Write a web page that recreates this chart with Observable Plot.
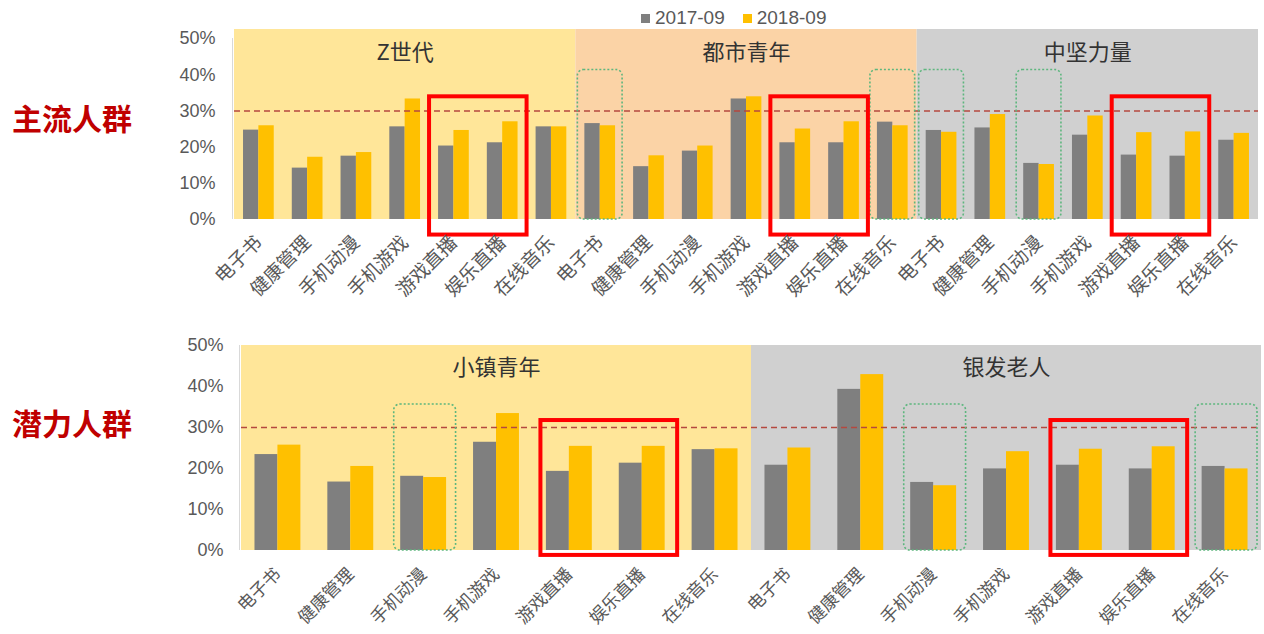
<!DOCTYPE html>
<html><head><meta charset="utf-8">
<script src="https://cdn.jsdelivr.net/npm/d3@7"></script>
<script src="https://cdn.jsdelivr.net/npm/@observablehq/plot@0.6"></script>
<style>
body{margin:0;background:#fff;font-family:"Liberation Sans","Noto Sans CJK SC",sans-serif;}
#wrap{position:relative;width:1264px;height:634px;overflow:hidden;background:#fff;}
.panel{position:absolute;left:0;}
.side{position:absolute;left:12px;font-family:"Noto Sans CJK SC",sans-serif;font-weight:700;font-size:30px;color:#C00000;line-height:30px;}
#legend{position:absolute;top:7px;left:641px;font-size:19px;color:#595959;display:flex;align-items:center;white-space:nowrap;}
#legend .sw{display:inline-block;width:9px;height:9px;margin-right:5px;}
</style></head>
<body><div id="wrap">
<div id="top" class="panel" style="top:0"></div>
<div id="bottom" class="panel" style="top:320px"></div>
<div id="legend"></div>
<div class="side" style="top:102px">主流人群</div>
<div class="side" style="top:407px">潜力人群</div>
</div>
<script>
// ---- data ----
const categories = ["电子书","健康管理","手机动漫","手机游戏","游戏直播","娱乐直播","在线音乐"];
const seriesNames = ["2017-09","2018-09"];
const topGroups = ["Z世代","都市青年","中坚力量"];
const bottomGroups = ["小镇青年","银发老人"];
const zGen2017 = [24.7,14.2,17.5,25.6,20.3,21.2,25.6];
const zGen2018 = [25.9,17.2,18.5,33.3,24.6,27.0,25.6];
const urban2017 = [26.5,14.6,18.9,33.3,21.2,21.2,26.9];
const urban2018 = [25.9,17.6,20.3,33.9,25.0,27.0,25.9];
const middle2017 = [24.6,25.3,15.5,23.3,17.8,17.5,21.9];
const middle2018 = [24.1,29.0,15.2,28.6,24.0,24.2,23.8];
const town2017 = [23.4,16.7,18.1,26.4,19.3,21.3,24.6];
const town2018 = [25.7,20.5,17.8,33.4,25.4,25.4,24.8];
const silver2017 = [20.8,39.3,16.6,19.9,20.8,19.9,20.5];
const silver2018 = [25.0,42.9,15.8,24.1,24.7,25.3,19.9];
const yTicks = [0,10,20,30,40,50];
const threshold = 30;
const topRedBoxes = [["Z世代","游戏直播"],["都市青年","游戏直播"],["中坚力量","游戏直播"]];
const topGreenBoxes = [["都市青年","电子书"],["都市青年","在线音乐"],["中坚力量","电子书"],["中坚力量","手机动漫"]];
const bottomRedBoxes = [["小镇青年","游戏直播"],["银发老人","游戏直播"]];
const bottomGreenBoxes = [["小镇青年","手机动漫"],["银发老人","手机动漫"],["银发老人","在线音乐"]];

const groupValues = {
  "Z世代": [zGen2017, zGen2018],
  "都市青年": [urban2017, urban2018],
  "中坚力量": [middle2017, middle2018],
  "小镇青年": [town2017, town2018],
  "银发老人": [silver2017, silver2018]
};
const groupColor = {"Z世代":"#FFE699","都市青年":"#FBD3A6","中坚力量":"#D0D0D0","小镇青年":"#FFE699","银发老人":"#D0D0D0"};
const seriesColor = ["#7F7F7F","#FFC000"];

// legend
const lg = document.getElementById("legend");
seriesNames.forEach((s,i)=>{
  const sp = document.createElement("span");
  sp.style.display="inline-flex";sp.style.alignItems="center";sp.style.marginRight= i===0?"18px":"0";
  sp.innerHTML = `<span class="sw" style="background:${seriesColor[i]}"></span>${s}`;
  lg.appendChild(sp);
});

function makePanel(groups, o) {
  const keys = groups.flatMap(g => categories.map(c => g + "|" + c));
  const rows = [];
  groups.forEach(g => categories.forEach((c, j) => seriesNames.forEach((s, k) => {
    rows.push({key: g + "|" + c, group: g, cat: c, series: s, value: groupValues[g][k][j]});
  })));
  const bw = (o.width - o.mL - o.mR) / keys.length;
  const barW = bw * 0.315;
  const k = (b) => b[0] + "|" + b[1];
  const marks = [];
  // one background band per group, spanning its seven categories
  groups.forEach(g => marks.push(Plot.barY([g], {x: d => d + "|" + categories[0], y1: 0, y2: o.yMax, fill: groupColor[g], insetRight: -(categories.length - 1) * bw})));
  marks.push(Plot.ruleX([keys[0]], {dx: -bw/2 - 2, y1: 0, y2: 50, stroke: "#D9D9D9", strokeWidth: 1}));
  seriesNames.forEach((s, i) => marks.push(Plot.barY(rows.filter(d => d.series === s), {
    x: "key", y: "value", fill: seriesColor[i],
    insetLeft: i === 0 ? bw/2 - barW : bw/2,
    insetRight: i === 0 ? bw/2 : bw/2 - barW
  })));
  marks.push(Plot.ruleY([threshold], {stroke: "#B5483F", strokeWidth: 1.6, strokeDasharray: "6,4"}));
  marks.push(Plot.text(groups, {x: g => g + "|" + categories[3], y: o.labelY, text: d => d, fontSize: 22, fill: "#333", fontFamily: "'Noto Sans CJK SC', sans-serif"}));
  marks.push(Plot.barY(o.green, {x: k, y1: 0, y2: o.greenTop, fill: "none", stroke: "#5DB67E", strokeWidth: 1.6, strokeDasharray: "2,2", rx: 6, insetLeft: o.gInL, insetRight: o.gInR}));
  marks.push(Plot.barY(o.red, {x: k, y1: o.redBottom, y2: o.redTop, fill: "none", stroke: "#FF0000", strokeWidth: 4, insetLeft: o.rInL, insetRight: -bw + o.rInR}));
  marks.push(Plot.axisY({ticks: yTicks, tickFormat: d => d + "%", tickSize: 0, tickPadding: o.yPad, fontSize: 18, fill: "#595959", label: null}));
  marks.push(Plot.axisX({tickFormat: d => d.split("|")[1], tickRotate: -45, tickSize: 0, tickPadding: o.xPad, fontSize: o.xFont, fill: "#595959", fontFamily: "'Noto Sans CJK SC', sans-serif", label: null}));
  return Plot.plot({
    width: o.width, height: o.height,
    marginLeft: o.mL, marginRight: o.mR, marginTop: o.mT, marginBottom: o.mB,
    x: {type: "band", domain: keys, padding: 0, round: false, axis: null, label: null},
    y: {domain: [0, o.yMax], axis: null, label: null},
    style: {fontFamily: "'Liberation Sans','Noto Sans CJK SC',sans-serif", color: "#595959", background: "transparent", overflow: "visible"},
    marks
  });
}

document.getElementById("top").appendChild(makePanel(topGroups, {
  width: 1264, height: 320, mL: 234, mR: 6, mT: 29, mB: 101, yMax: 52.5,
  labelY: 46, green: topGreenBoxes, greenTop: 41.3, gInL: 2, gInR: 2,
  red: topRedBoxes, redTop: 33.9, redBottom: -4.3, rInL: 0, rInR: 0,
  yPad: 19, xPad: 20, xFont: 19
}));
document.getElementById("bottom").appendChild(makePanel(bottomGroups, {
  width: 1264, height: 314, mL: 241, mR: 3, mT: 25, mB: 84, yMax: 50,
  labelY: 44.6, green: bottomGreenBoxes, greenTop: 35.6, gInL: 7, gInR: 4,
  red: bottomRedBoxes, redTop: 31.7, redBottom: -1.2, rInL: 8, rInR: 1,
  yPad: 18, xPad: 21, xFont: 17.5
}));
</script>
</body></html>
